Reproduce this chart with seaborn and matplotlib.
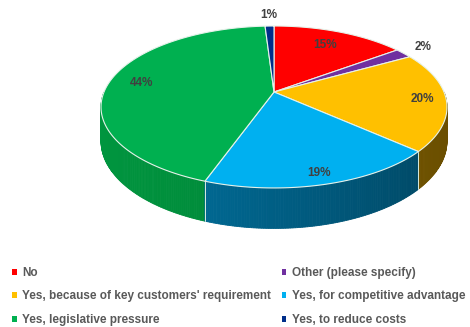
import numpy as np
import matplotlib
matplotlib.use("Agg")
import matplotlib.pyplot as plt
from matplotlib.patches import Polygon, Patch
import matplotlib.colors as mcolors
import seaborn as sns

categories = [
    "No",
    "Other (please specify)",
    "Yes, because of key customers' requirement",
    "Yes, for competitive advantage",
    "Yes, legislative pressure",
    "Yes, to reduce costs",
]
values = [15, 2, 20, 19, 44, 1]
labels = ["15%", "2%", "20%", "19%", "44%", "1%"]

top_colors = ["#FF0000", "#7030A0", "#FFC000", "#00B0F0", "#00B050", "#002E8A"]
side_left = ["#B00000", "#4A1F6E", "#8A6800", "#0079AA", "#00963F", "#001E5C"]
side_right = ["#8A0000", "#3A1656", "#6A4E00", "#00445F", "#007B33", "#001440"]
# radial placement of each percentage label (1.0 = rim)
label_r = [0.75, 1.17, 0.86, 0.9, 0.8, 1.2]

FONT = ["Liberation Sans", "DejaVu Sans"]
sns.set_theme(style="white")
plt.rcParams["font.family"] = FONT

W, H = 470, 327
fig = plt.figure(figsize=(W / 100, H / 100), dpi=100)
ax = fig.add_axes([0, 0, 1, 1])
ax.set_xlim(0, W)
ax.set_ylim(H, 0)
ax.axis("off")

# disc seen in perspective: centre (px), horizontal / depth scale, perspective factor
cx, cy = 274, 92
sx, sz = 170, 78.2
persp = 0.185
wall = 33


def project(t_deg, r=1.0):
    t = np.radians(t_deg)
    X, Z = r * np.cos(t), r * np.sin(t)
    s = 1.0 / (1.0 + persp * Z)
    return cx + sx * X * s, cy - sz * Z * s, s


fracs = np.array(values, dtype=float) / np.sum(values)
bounds = 90 - 360 * np.concatenate([[0], np.cumsum(fracs)])

# side wall: thin strips along the front half, drawn back to front
strips = []
for i in range(len(values)):
    a_hi, a_lo = bounds[i], bounds[i + 1]
    lo, hi = max(a_lo, -180), min(a_hi, 0)
    if hi <= lo:
        continue
    ts = np.linspace(lo, hi, max(int((hi - lo) * 1.5), 1) + 1)
    c_l = np.array(mcolors.to_rgb(side_left[i]))
    c_r = np.array(mcolors.to_rgb(side_right[i]))
    for k in range(len(ts) - 1):
        t0, t1 = ts[k], ts[k + 1]
        tm = 0.5 * (t0 + t1)
        u = (np.cos(np.radians(tm)) + 1) / 2
        strips.append((np.sin(np.radians(tm)), t0, t1, c_l * (1 - u) + c_r * u))
strips.sort(key=lambda s: -s[0])
for _, t0, t1, col in strips:
    x0, y0, s0 = project(t0)
    x1, y1, s1 = project(t1)
    pts = [(x0, y0), (x1, y1), (x1, y1 + wall * s1), (x0, y0 + wall * s0)]
    ax.add_patch(Polygon(pts, closed=True, facecolor=col, edgecolor=col,
                         linewidth=0.6, zorder=1))

# seams on the wall at the slice boundaries
for a in bounds[1:-1]:
    aa = ((a + 180) % 360) - 180
    if -170 < aa < -10:
        x, y, s = project(aa)
        ax.plot([x, x], [y, y + wall * s], color="#D8ECE0", lw=0.7, zorder=2)

# top face slices
for i in range(len(values)):
    ts = np.linspace(bounds[i + 1], bounds[i], 200)
    xs, ys, _ = project(ts)
    pts = [(cx, cy)] + list(zip(xs, ys))
    ax.add_patch(Polygon(pts, closed=True, facecolor=top_colors[i],
                         edgecolor="#E6F2EA", linewidth=0.8, zorder=3))

# percentage labels at the slice mid angles
mids = 0.5 * (bounds[:-1] + bounds[1:])
for m, r, txt in zip(mids, label_r, labels):
    x, y, _ = project(m, r)
    ax.text(x, y, txt, ha="center", va="center", fontsize=8.5,
            fontweight="bold", color="#404040", zorder=5)

# legend filled row by row in two columns
order = [0, 2, 4, 1, 3, 5]
handles = [Patch(facecolor=top_colors[i], edgecolor="none") for i in order]
names = [categories[i] for i in order]
leg = fig.legend(
    handles, names, loc="upper left", bbox_to_anchor=(0.026, 0.184),
    ncol=2, frameon=False, handlelength=0.4, handleheight=0.4,
    handletextpad=0.45, columnspacing=0.9, labelspacing=0.98,
    borderpad=0.0, borderaxespad=0.0,
    prop=dict(family=FONT, weight="bold", size=8.5),
)
for t in leg.get_texts():
    t.set_color("#595959")

fig.savefig("out.png", dpi=100)
